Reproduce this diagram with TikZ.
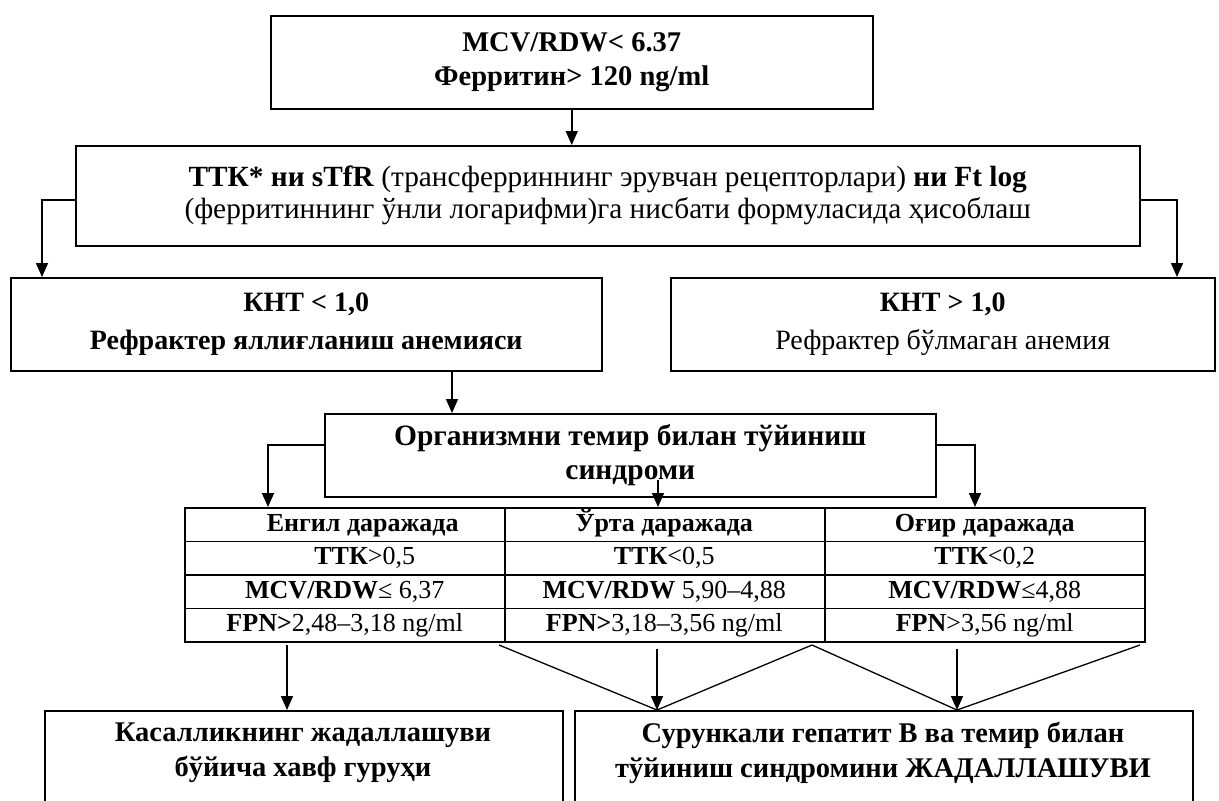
\documentclass[tikz,border=0pt]{standalone}
\usepackage{fontspec}
\setmainfont{Liberation Serif}
\usetikzlibrary{arrows.meta,calc}
\begin{document}
\begin{tikzpicture}[x=1pt,y=-1pt,
  box/.style={draw, line width=1.5pt, inner sep=0pt, anchor=north west, align=center},
  cell/.style={draw, line width=1.5pt, inner sep=0pt, anchor=north west, minimum width=320pt, minimum height=33.5pt, text height=19pt, text depth=6pt, font=\fontsize{26}{30}\selectfont},
  conn/.style={line width=1.5pt, -{Triangle[width=12pt,length=14pt]}},
  plain/.style={line width=1.3pt},
  fa/.style={font=\fontsize{28.5}{34}\selectfont\bfseries},
  fb/.style={font=\fontsize{29.3}{32}\selectfont},
  fc/.style={font=\fontsize{28}{38}\selectfont},
  fe/.style={font=\fontsize{29.5}{34}\selectfont\bfseries},
  fd/.style={font=\fontsize{28.5}{35}\selectfont\bfseries}]
\useasboundingbox (0,0) rectangle (1219,801);
% boxes
\node[box, fa, minimum width=602pt, minimum height=93pt] (top) at (270,15) {MCV/RDW< 6.37\\Ферритин> 120 ng/ml};
\node[box, fb, minimum width=1064pt, minimum height=100pt] (b2) at (75,145) {\textbf{ТТК* ни sTfR} (трансферриннинг эрувчан рецепторлари) \textbf{ни Ft log}\\(ферритиннинг ўнли логарифми)га нисбати формуласида ҳисоблаш};
\node[box, fc, minimum width=591pt, minimum height=93pt] (b3) at (10,277) {\textbf{КНТ < 1,0}\\\textbf{Рефрактер яллиғланиш анемияси}};
\node[box, fc, minimum width=544pt, minimum height=93pt] (b4) at (670,277) {\textbf{КНТ > 1,0}\\Рефрактер бўлмаган анемия};
\node[box, fe, minimum width=611pt, minimum height=83pt] (b5) at (324,413) {Организмни темир билан тўйиниш\\синдроми};
% table
\node[cell, font=\fontsize{26}{30}\selectfont\bfseries] (c11) at (184,507) {\hspace*{36pt}Енгил даражада};
\node[cell, font=\fontsize{26}{30}\selectfont\bfseries] (c12) at (503.5,507) {Ўрта даражада};
\node[cell, font=\fontsize{26}{30}\selectfont\bfseries] (c13) at (824,507) {Оғир даражада};
\node[cell] (c21) at (184,540.5) {\hspace*{40pt}\textbf{ТТК}>0,5};
\node[cell] (c22) at (503.5,540.5) {\textbf{ТТК}<0,5};
\node[cell] (c23) at (824,540.5) {\textbf{ТТК}<0,2};
\node[cell] (c31) at (184,574) {\textbf{MCV/RDW}≤ 6,37};
\node[cell] (c32) at (503.5,574) {\textbf{MCV/RDW} 5,90–4,88};
\node[cell] (c33) at (824,574) {\textbf{MCV/RDW}≤4,88};
\node[cell] (c41) at (184,607.5) {\textbf{FPN>}2,48–3,18 ng/ml};
\node[cell] (c42) at (503.5,607.5) {\textbf{FPN>}3,18–3,56 ng/ml};
\node[cell] (c43) at (824,607.5) {\textbf{FPN}>3,56 ng/ml};
% bottom boxes (cut by the page edge)
\begin{scope}
\clip (0,0) rectangle (1219,801);
\node[box, minimum width=518pt, minimum height=130pt] (b6) at (44,710) {};
\node[box, minimum width=618pt, minimum height=130pt] (b7) at (574,710) {};
\end{scope}
\node[fd, align=center] (t6) at (303,753) {Касалликнинг жадаллашуви\\бўйича хавф гуруҳи};
\node[fd, align=center] (t7) at (883,753) {Сурункали гепатит В ва темир билан\\тўйиниш синдромини ЖАДАЛЛАШУВИ};
% connectors
\draw[conn] (top.south) -- (top.south |- b2.north);
\coordinate (L1) at (42,200);
\coordinate (R1) at (1177,200);
\draw[conn] (b2.west |- L1) -- (L1) -- (L1 |- b3.north);
\draw[conn] (b2.east |- R1) -- (R1) -- (R1 |- b4.north);
\coordinate (M1) at (452,0);
\draw[conn] (b3.south -| M1) -- (b5.north -| M1);
\coordinate (L2) at (268,445);
\coordinate (R2) at (975,445);
\coordinate (M2) at (658,480);
\draw[conn] (b5.west |- L2) -- (L2) -- (L2 |- c11.north);
\draw[conn] (b5.east |- R2) -- (R2) -- (R2 |- c13.north);
\draw[conn] (M2) -- (M2 |- c12.north);
\coordinate (B1) at (287,645);
\coordinate (B2) at (657,649);
\coordinate (B3) at (957,649);
\draw[conn] (B1) -- (B1 |- b6.north);
\draw[conn] (B2) -- (B2 |- b7.north);
\draw[conn] (B3) -- (B3 |- b7.north);
\coordinate (V1) at (499,645);
\coordinate (V2) at (812,645);
\coordinate (V3) at (1140,645);
\draw[plain] (V1) -- (B2 |- b7.north) -- (V2) -- (B3 |- b7.north) -- (V3);
\end{tikzpicture}
\end{document}
